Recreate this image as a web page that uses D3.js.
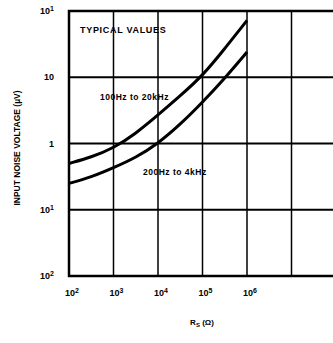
<!DOCTYPE html>
<html lang="en">
<head>
  <meta charset="utf-8">
  <title>Input noise voltage</title>
  <script src="https://d3js.org/d3.v7.min.js"></script>
  <style>
    body { margin: 0; background: #fff; }
    text { font-family: "Liberation Sans", Arial, sans-serif; font-weight: bold; fill: #000; }
  </style>
</head>
<body>
  <div id="container"></div>
  <script>
    var w = 333;
    var h = 343;

    // source resistance (ohms)
    var rs = [100, 316, 1000, 3162, 10000, 31623, 100000, 316228, 1000000];
    // noise voltage (uV)
    var wideBand = [0.50, 0.62, 0.85, 1.41, 2.69, 5.25, 10.5, 27, 72];
    var narrowBand = [0.25, 0.31, 0.43, 0.61, 1.0, 1.94, 4.2, 9.6, 24];

    var xGrid = [1e2, 1e3, 1e4, 1e5, 1e6, 1e7, 1e8];
    var xTicks = [1e2, 1e3, 1e4, 1e5, 1e6];
    var xExp = ["2", "3", "4", "5", "6"];
    var yTicks = [100, 10, 1, 0.1, 0.01];
    var yBase = ["10", "10", "1", "10", "10"];
    var yExp = ["1", "", "", "1", "2"];

    var svg = d3.select("#container").append("svg")
      .attr("width", w).attr("height", h);

    var x = d3.scaleLog().domain([1e2, 1e8]).range([69, 336]);
    var y = d3.scaleLog().domain([0.01, 100]).range([276, 11]);

    // grid
    svg.selectAll(".vgrid").data(xGrid).enter().append("line")
      .attr("x1", d => x(d)).attr("x2", d => x(d))
      .attr("y1", y(100)).attr("y2", y(0.01))
      .attr("stroke", "#000").attr("stroke-width", 1.5);

    svg.selectAll(".hgrid").data(yTicks).enter().append("line")
      .attr("x1", x(1e2)).attr("x2", x(1e8))
      .attr("y1", d => y(d)).attr("y2", d => y(d))
      .attr("stroke", "#000").attr("stroke-width", 2);

    // frame
    svg.append("rect")
      .attr("x", x(1e2)).attr("y", y(100))
      .attr("width", x(1e8) - x(1e2)).attr("height", y(0.01) - y(100))
      .attr("fill", "none").attr("stroke", "#000").attr("stroke-width", 2.5);

    // curves
    var line = d3.line()
      .x((d, i) => x(rs[i]))
      .y(d => y(d))
      .curve(d3.curveBasis);

    [wideBand, narrowBand].forEach(function(s) {
      svg.append("path").datum(s)
        .attr("d", line)
        .attr("fill", "none").attr("stroke", "#000").attr("stroke-width", 3);
    });

    // x tick labels
    var xl = svg.selectAll(".xl").data(xTicks).enter().append("text")
      .attr("x", d => x(d) + 3).attr("y", 296)
      .attr("text-anchor", "middle").attr("font-size", 9);
    xl.append("tspan").text("10");
    xl.append("tspan").attr("font-size", 7).attr("dy", -3).text((d, i) => xExp[i]);

    // y tick labels
    var yl = svg.selectAll(".yl").data(yTicks).enter().append("text")
      .attr("x", 54).attr("y", d => y(d) + 3)
      .attr("text-anchor", "end").attr("font-size", 9);
    yl.append("tspan").text((d, i) => yBase[i]);
    yl.append("tspan").attr("font-size", 7).attr("dy", -3).text((d, i) => yExp[i]);

    // annotations
    svg.append("text").attr("x", 80).attr("y", 33)
      .attr("font-size", 9).attr("letter-spacing", 0.7).text("TYPICAL VALUES");
    svg.append("text").attr("x", 100).attr("y", 100)
      .attr("font-size", 8.5).attr("letter-spacing", 0.5).text("100Hz to 20kHz");
    svg.append("text").attr("x", 143).attr("y", 175)
      .attr("font-size", 8.5).attr("letter-spacing", 0.5).text("200Hz to 4kHz");

    // axis titles
    svg.append("text")
      .attr("transform", "translate(20,148) rotate(-90)")
      .attr("text-anchor", "middle").attr("font-size", 8.5)
      .text("INPUT NOISE VOLTAGE (\u00b5V)");

    var xt = svg.append("text").attr("x", 202).attr("y", 325)
      .attr("text-anchor", "middle").attr("font-size", 8);
    xt.append("tspan").text("R");
    xt.append("tspan").attr("font-size", 6).attr("dy", 2).text("S");
    xt.append("tspan").attr("dy", -2).text(" (\u03a9)");
  </script>
</body>
</html>
